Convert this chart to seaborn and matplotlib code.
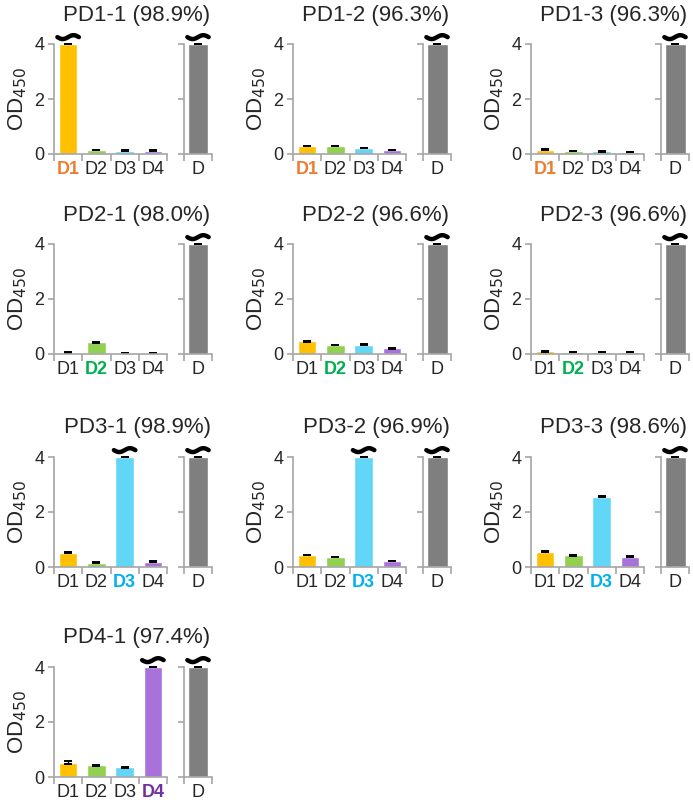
import matplotlib
matplotlib.use("Agg")
import matplotlib.pyplot as plt
import numpy as np
import seaborn as sns

# data
panel_names = ["PD1-1", "PD1-2", "PD1-3",
               "PD2-1", "PD2-2", "PD2-3",
               "PD3-1", "PD3-2", "PD3-3",
               "PD4-1"]
panel_pct = ["98.9%", "96.3%", "96.3%",
             "98.0%", "96.6%", "96.6%",
             "98.9%", "96.9%", "98.6%",
             "97.4%"]
highlight = [0, 0, 0, 1, 1, 1, 2, 2, 2, 3]  # which Dn is the target

categories = ["D1", "D2", "D3", "D4"]
od_values = [
    [4.0, 0.15, 0.12, 0.12],
    [0.30, 0.30, 0.23, 0.16],
    [0.16, 0.11, 0.10, 0.08],
    [0.05, 0.43, 0.04, 0.04],
    [0.46, 0.32, 0.34, 0.20],
    [0.10, 0.07, 0.07, 0.07],
    [0.52, 0.16, 4.0, 0.20],
    [0.42, 0.35, 4.0, 0.23],
    [0.55, 0.42, 2.55, 0.38],
    [0.52, 0.42, 0.35, 4.0],
]
od_err = [
    [0.01, 0.01, 0.01, 0.01],
    [0.0, 0.0, 0.0, 0.0],
    [0.01, 0.01, 0.01, 0.01],
    [0.01, 0.02, 0.01, 0.01],
    [0.01, 0.01, 0.01, 0.01],
    [0.01, 0.01, 0.01, 0.01],
    [0.01, 0.01, 0.01, 0.01],
    [0.0, 0.0, 0.0, 0.0],
    [0.02, 0.01, 0.02, 0.01],
    [0.06, 0.01, 0.01, 0.01],
]
ctrl_label = ["D"]
ctrl_values = [4.0] * 10
ctrl_err = [0.01] * 10

bar_colors = ["#FFC000", "#92D050", "#62D6F7", "#A872DA"]
label_colors = ["#ED7D31", "#00B050", "#00B0F0", "#7030A0"]
ctrl_color = "#7F7F7F"
spine_col = "#A6A6A6"

sns.set_style("white")
plt.rcParams["font.family"] = ["Liberation Sans", "DejaVu Sans"]

W, H = 693, 802
fig = plt.figure(figsize=(W / 100, H / 100), dpi=100)

col_left = [54, 293, 531]
row_top = [44, 244, 457, 667]
ax_h = 110
main_w = 113
small_off = 130
small_w = 28


def style_axis(ax):
    sns.despine(ax=ax)
    for s in ["left", "bottom"]:
        ax.spines[s].set_color(spine_col)
        ax.spines[s].set_linewidth(1.2)
    ax.set_ylim(0, 4)
    ax.set_yticks([0, 2, 4])
    ax.tick_params(axis="y", which="major", length=4, color=spine_col,
                   width=1.2, labelsize=13, pad=3, left=True)
    ax.tick_params(axis="x", which="major", length=0, labelsize=13, pad=5)
    ax.tick_params(axis="x", which="minor", length=5, color=spine_col,
                   width=1.2, bottom=True)
    ax.set_xlabel("")
    ax.set_ylabel("")


# break mark (wavy tilde) over bars that ran off the scale
def add_tilde(ax, x, y=4.25):
    t = np.linspace(0, 1, 40)
    xs = x - 0.38 + 0.76 * t
    ys = y - 0.07 * np.sin(2 * np.pi * t)
    ax.plot(xs, ys, color="black", lw=3.2, solid_capstyle="round",
            clip_on=False)


for i, name in enumerate(panel_names):
    r, c = divmod(i, 3)
    left = col_left[c]
    top = row_top[r]
    ax = fig.add_axes([left / W, 1 - (top + ax_h) / H, main_w / W, ax_h / H])
    vals = od_values[i]
    sns.barplot(x=categories, y=vals, hue=categories, palette=bar_colors,
                width=0.65, ax=ax, legend=False, saturation=1, errorbar=None)
    ax.errorbar(range(4), vals, yerr=od_err[i], fmt="none", ecolor="black",
                elinewidth=1.0, capsize=3, capthick=1.4, clip_on=False)
    ax.set_xlim(-0.5, 3.5)
    ax.set_xticks([-0.5, 0.5, 1.5, 2.5, 3.5], minor=True)
    style_axis(ax)
    ax.set_ylabel("OD$_{450}$", fontsize=16, labelpad=4)
    for j, lab in enumerate(ax.get_xticklabels()):
        if j == highlight[i]:
            lab.set_color(label_colors[j])
            lab.set_fontweight("bold")
    for j, v in enumerate(vals):
        if v >= 4.0:
            add_tilde(ax, j)

    axs = fig.add_axes([(left + small_off) / W, 1 - (top + ax_h) / H,
                        small_w / W, ax_h / H])
    sns.barplot(x=ctrl_label, y=[ctrl_values[i]], color=ctrl_color,
                width=0.75, ax=axs, saturation=1, errorbar=None)
    axs.errorbar([0], [ctrl_values[i]], yerr=[ctrl_err[i]], fmt="none",
                 ecolor="black", elinewidth=1.0, capsize=3, capthick=1.4,
                 clip_on=False)
    axs.set_xlim(-0.5, 0.5)
    axs.set_xticks([-0.5, 0.5], minor=True)
    style_axis(axs)
    axs.set_yticklabels([])
    add_tilde(axs, 0)

    fig.text((left + 83) / W, 1 - (top - 29) / H,
             f"{name} ({panel_pct[i]})", ha="center", va="center",
             fontsize=16)

fig.savefig("out.png", dpi=100)
